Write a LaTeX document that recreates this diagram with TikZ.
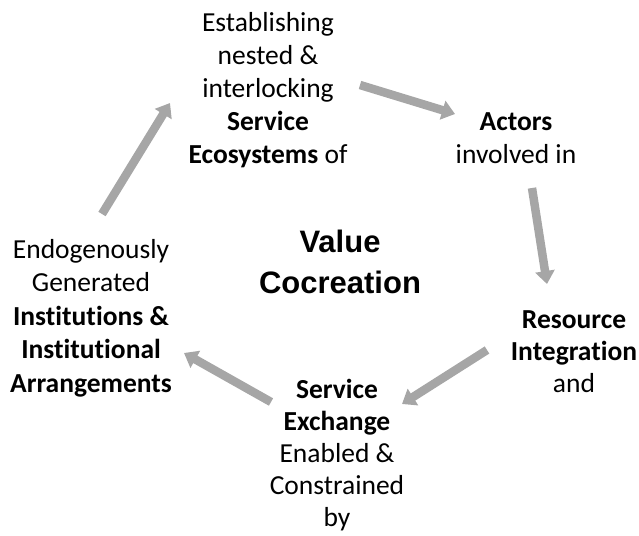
\documentclass[tikz,border=0pt]{standalone}
\usepackage{fontspec}
\setmainfont{Carlito}[Ligatures=NoCommon]
\newfontfamily\arialfont{Liberation Sans}
\usetikzlibrary{arrows.meta}
\definecolor{arrowgray}{HTML}{A6A6A6}
\tikzset{
  lbl/.style={align=center, anchor=base, inner sep=0pt, text=black,
    font=\fontsize{27.5}{33}\selectfont},
  lblr/.style={lbl, font=\fontsize{27.5}{32}\selectfont},
  lbll/.style={lbl, font=\fontsize{27.5}{33.5}\selectfont},
  centre/.style={align=center, anchor=base, inner sep=0pt, text=black,
    font=\arialfont\bfseries\fontsize{31}{41}\selectfont},
  cyc/.style={draw=arrowgray, line width=8.5pt, line cap=butt,
    -{Triangle[width=19pt,length=13pt]}},
}
\begin{document}
\begin{tikzpicture}[x=1pt,y=-1pt]
\useasboundingbox (0,0) rectangle (639,535);

% anchor=base of a multi-line node = baseline of its last line
\node[lbl] (eco) at (268,163) {Establishing\\nested \&\\interlocking\\\textbf{Service}\\\textbf{Ecosystems} of};
\node[lbl] (act) at (516,163) {\textbf{Actors}\\involved in};
\node[lblr] (res) at (574,392) {\textbf{Resource}\\\textbf{Integration}\\and};
\node[lblr] (exc) at (337,526) {\textbf{Service}\\\textbf{Exchange}\\Enabled \&\\Constrained\\by};
\node[lbll] (ins) at (91,392) {Endogenously\\Generated\\\textbf{Institutions \&}\\\textbf{Institutional}\\\textbf{Arrangements}};
\node[centre] (vc) at (340,293) {Value\\Cocreation};

\coordinate (a1s) at (360,85);  \coordinate (a1e) at (455,114);
\coordinate (a2s) at (532,188); \coordinate (a2e) at (547,284);
\coordinate (a3s) at (487,350); \coordinate (a3e) at (402,404);
\coordinate (a4s) at (271,402); \coordinate (a4e) at (184,353);
\coordinate (a5s) at (102,214); \coordinate (a5e) at (170,103);

\draw[cyc] (a1s) -- (a1e);
\draw[cyc] (a2s) -- (a2e);
\draw[cyc] (a3s) -- (a3e);
\draw[cyc] (a4s) -- (a4e);
\draw[cyc] (a5s) -- (a5e);
\end{tikzpicture}
\end{document}
